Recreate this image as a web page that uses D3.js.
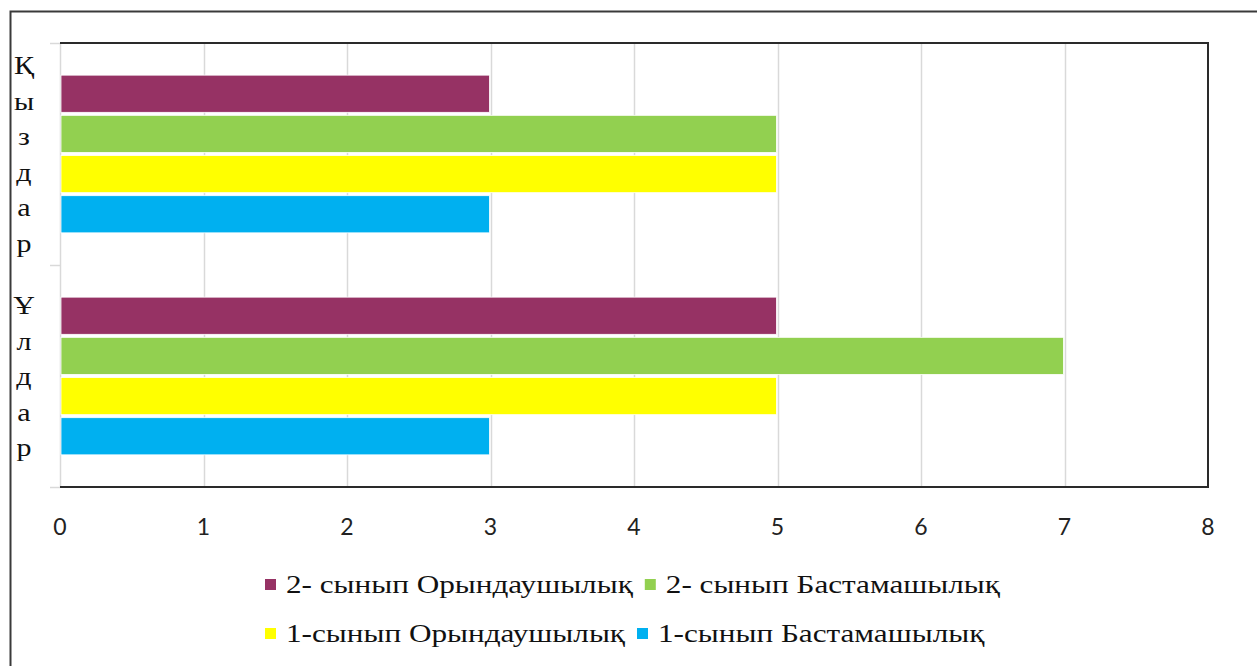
<!DOCTYPE html>
<html>
<head>
<meta charset="utf-8">
<script src="https://cdn.jsdelivr.net/npm/d3@7"></script>
<style>
  html, body { margin: 0; padding: 0; background: #fff; }
  svg { display: block; }
</style>
</head>
<body>
<svg id="chart" width="1257" height="666"></svg>
<script>
// ---- Data ----
const categories = ["Қыздар", "Ұлдар"];
const seriesNames = [
  "2- сынып Орындаушылық",
  "2- сынып Бастамашылық",
  "1-сынып Орындаушылық",
  "1-сынып Бастамашылық"
];
const seriesColors = ["#963264", "#92D050", "#FFFF00", "#00B0F0"];
const valuesQyzdar = [3, 5, 5, 3];
const valuesUldar = [5, 7, 5, 3];
const xTicks = [0, 1, 2, 3, 4, 5, 6, 7, 8];

const values = { "Қыздар": valuesQyzdar, "Ұлдар": valuesUldar };

// ---- Layout ----
const svg = d3.select("#chart");
const plot = { left: 60, right: 1208, top: 43, bottom: 487 };
const serif = "'Liberation Serif', 'Times New Roman', 'DejaVu Serif', serif";
const stretch = 1.2;

// outer frame
svg.append("rect")
  .attr("x", 10.5).attr("y", 11.5)
  .attr("width", 1300).attr("height", 700)
  .attr("fill", "none").attr("stroke", "#3a3a3a").attr("stroke-width", 2);

const x = d3.scaleLinear().domain([0, 8]).range([plot.left, plot.right]);
const y0 = d3.scaleBand().domain(categories).range([plot.top, plot.bottom]).padding(0);
const y1 = d3.scaleBand().domain(seriesNames).range([0, y0.bandwidth()])
  .paddingInner(0.075).paddingOuter(0.8);

// gridlines
svg.append("g").selectAll("line").data(xTicks.filter(d => d > 0 && d < 8)).join("line")
  .attr("x1", d => Math.round(x(d)) + 0.5).attr("x2", d => Math.round(x(d)) + 0.5)
  .attr("y1", plot.top).attr("y2", plot.bottom)
  .attr("stroke", "#d9d9d9").attr("stroke-width", 1.5);

// left axis (category) - light gray with ticks
svg.append("line")
  .attr("x1", plot.left + 0.5).attr("x2", plot.left + 0.5)
  .attr("y1", plot.top).attr("y2", plot.bottom)
  .attr("stroke", "#d9d9d9").attr("stroke-width", 1.5);
const catTicks = [plot.top, y0(categories[1]), plot.bottom];
svg.append("g").selectAll("line").data(catTicks).join("line")
  .attr("x1", plot.left - 10).attr("x2", plot.left)
  .attr("y1", d => d + 0.5).attr("y2", d => d + 0.5)
  .attr("stroke", "#d9d9d9").attr("stroke-width", 1.5);

// bars
const groups = svg.append("g").selectAll("g").data(categories).join("g")
  .attr("transform", c => `translate(0,${y0(c)})`);
groups.selectAll("rect")
  .data(c => seriesNames.map((s, i) => ({ s, i, v: values[c][i] })))
  .join("rect")
  .attr("x", x(0) + 1)
  .attr("y", d => y1(d.s))
  .attr("width", d => x(d.v) - x(0) - 2)
  .attr("height", y1.bandwidth())
  .attr("fill", d => seriesColors[d.i])
  .attr("stroke", "#ffffff").attr("stroke-width", 0.8);

// plot border: top, right, bottom
svg.append("path")
  .attr("d", `M${plot.left},${plot.top} H${plot.right} V${plot.bottom} H${plot.left}`)
  .attr("fill", "none").attr("stroke", "#2a2a2a").attr("stroke-width", 2);

// x tick labels
svg.append("g").selectAll("text").data(xTicks).join("text")
  .attr("x", d => x(d)).attr("y", 535)
  .attr("text-anchor", "middle")
  .attr("font-family", "Lato, 'Liberation Sans', sans-serif")
  .attr("font-size", 23).attr("fill", "#222")
  .text(d => d);

// vertical category labels (stacked letters)
const letterStep = 35.5;
categories.forEach(c => {
  const letters = Array.from(c);
  const cy = y0(c) + y0.bandwidth() / 2 + 1;
  const start = cy - (letters.length - 1) * letterStep / 2;
  svg.append("g").selectAll("text").data(letters).join("text")
    .attr("transform", (d, i) => `translate(24,${start + i * letterStep + 8}) scale(${stretch},1)`)
    .attr("text-anchor", "middle")
    .attr("font-family", serif)
    .attr("font-size", 25).attr("fill", "#111")
    .text(d => d);
});

// legend: two rows, left-aligned
const legendRows = [[0, 1], [2, 3]];
const legendY = [593, 642];
const legendLeft = 265;
legendRows.forEach((row, r) => {
  const g = svg.append("g").attr("transform", `translate(${legendLeft},${legendY[r]})`);
  let cursor = 0;
  row.forEach((si, k) => {
    const item = g.append("g").attr("transform", `translate(${cursor},0)`);
    item.append("rect")
      .attr("x", 0).attr("y", -14).attr("width", 11).attr("height", 11)
      .attr("fill", seriesColors[si]);
    const t = item.append("text")
      .attr("transform", `translate(21,0) scale(${stretch},1)`)
      .attr("font-family", serif)
      .attr("font-size", 26).attr("fill", "#111")
      .text(seriesNames[si]);
    cursor += 21 + t.node().getComputedTextLength() * stretch + 12;
  });
});
</script>
</body>
</html>
